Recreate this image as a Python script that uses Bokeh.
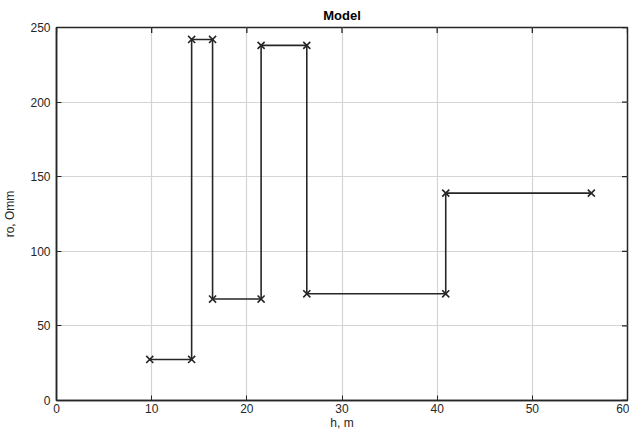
import math
from bokeh.plotting import figure
from bokeh.models import Range1d, FixedTicker
from bokeh.embed import file_html
from bokeh.resources import INLINE

# Layer model: polyline vertices (depth h, resistivity ro)
h = [9.8, 14.2, 14.2, 16.4, 16.4, 21.5, 21.5, 26.3, 26.3, 40.9, 40.9, 56.2]
ro = [27.5, 27.5, 242, 242, 68, 68, 238, 238, 71.5, 71.5, 139, 139]
x_ticks = [0, 10, 20, 30, 40, 50, 60]
y_ticks = [0, 50, 100, 150, 200, 250]

FONT = "Liberation Sans"
DARK = "#262626"

p = figure(frame_width=571, frame_height=373, output_backend="svg", toolbar_location=None,
           x_range=Range1d(0, 60), y_range=Range1d(0, 250),
           min_border_left=47, min_border_right=2, min_border_top=24, min_border_bottom=2)

p.title.text = "Model"
p.title.align = "center"
p.title.text_font = FONT
p.title.text_font_size = "13px"
p.title.text_font_style = "bold"
p.title.text_color = "#000000"
p.title.offset = 0

p.line(h, ro, line_color=DARK, line_width=1.6)
p.scatter(h, ro, marker="x", size=10, line_color=DARK, line_width=1.6)

# inward tick marks on the top and right edges (half of each dash is clipped by the frame)
p.scatter(x_ticks, [250] * len(x_ticks), marker="dash", angle=math.pi / 2, size=11,
          line_color=DARK, line_width=1.3)
p.scatter([60] * len(y_ticks), y_ticks, marker="dash", size=11,
          line_color=DARK, line_width=1.3)

for ax, ticks in ((p.xaxis[0], x_ticks), (p.yaxis[0], y_ticks)):
    ax.ticker = FixedTicker(ticks=ticks)
    ax.major_tick_in = 5
    ax.major_tick_out = 0
    ax.minor_tick_line_color = None
    ax.axis_line_color = DARK
    ax.axis_line_width = 1.5
    ax.major_tick_line_color = DARK
    ax.major_label_text_font = FONT
    ax.major_label_text_font_size = "12px"
    ax.major_label_text_color = DARK
    ax.axis_label_text_font = FONT
    ax.axis_label_text_font_size = "12px"
    ax.axis_label_text_font_style = "normal"
    ax.axis_label_text_color = DARK

p.xaxis[0].axis_label = "h, m"
p.yaxis[0].axis_label = "ro, Omm"
p.xaxis[0].major_label_standoff = 3
p.xaxis[0].axis_label_standoff = 0
p.yaxis[0].major_label_standoff = 6
p.yaxis[0].axis_label_standoff = 10

p.xgrid.ticker = FixedTicker(ticks=x_ticks)
p.ygrid.ticker = FixedTicker(ticks=y_ticks)
p.grid.grid_line_color = "#d4d4d4"
p.grid.grid_line_width = 1.2
p.outline_line_color = DARK
p.outline_line_width = 1.5

open("out.html", "w").write(file_html(p, INLINE))
